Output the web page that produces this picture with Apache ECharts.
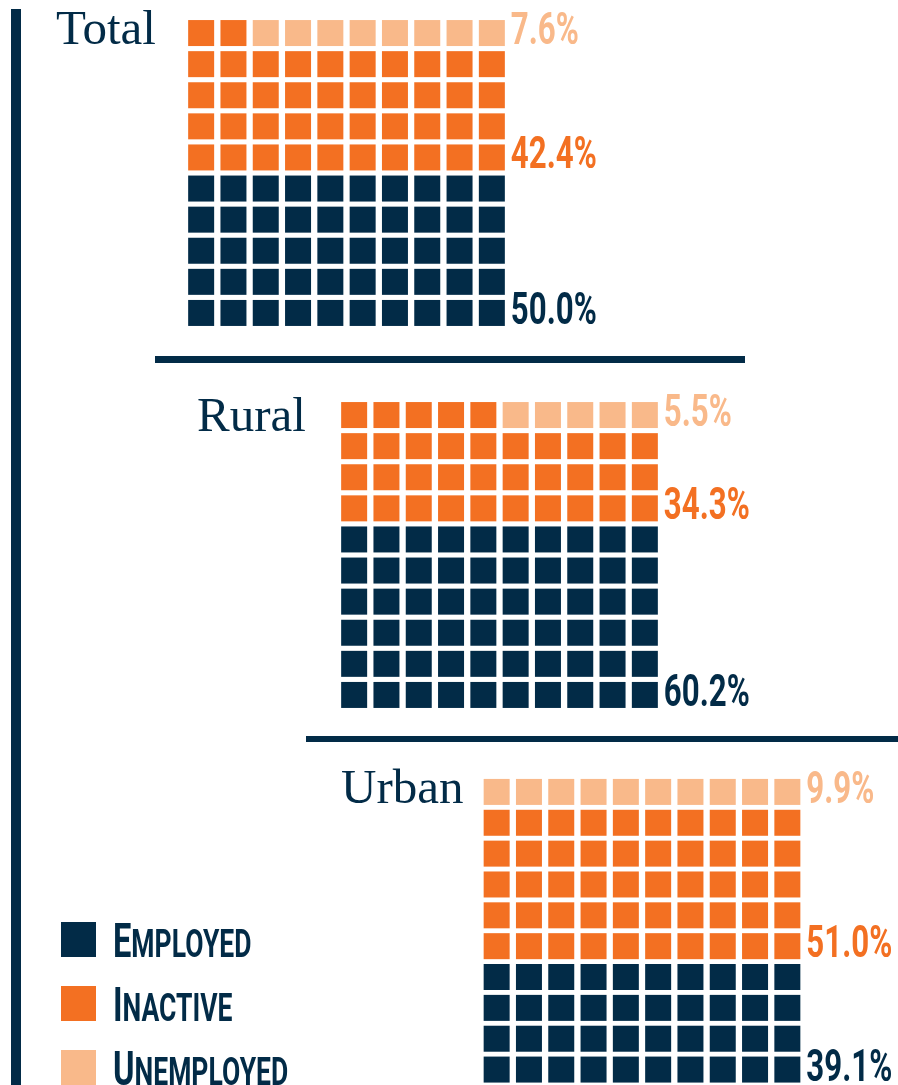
<!DOCTYPE html>
<html>
<head>
<meta charset="utf-8">
<script src="https://cdn.jsdelivr.net/npm/echarts@6/dist/echarts.min.js"></script>
<style>
  html, body { margin: 0; padding: 0; background: #fff; }
  #chart { width: 898px; height: 1085px; }
</style>
</head>
<body>
<div id="chart"></div>
<script>
// values
const regions = ['Total', 'Rural', 'Urban']
const statuses = ['Employed', 'Inactive', 'Unemployed']
const employedShare = [50.0, 60.2, 39.1]
const inactiveShare = [42.4, 34.3, 51.0]
const unemployedShare = [7.6, 5.5, 9.9]
// squares drawn out of 100 in each waffle
const employedCells = [50, 60, 40]
const inactiveCells = [42, 35, 50]
const unemployedCells = [8, 5, 10]

const NAVY = '#022b47'
const ORANGE = '#f37022'
const PEACH = '#f9b98a'
const colors = [NAVY, ORANGE, PEACH]

// no condensed face installed, so squeeze a bold sans horizontally
const NARROW = 'Roboto, "DejaVu Sans", sans-serif'
const SQUEEZE = 0.68
const SQUEEZE_PCT = 0.71
const SERIF = '"Liberation Serif", "DejaVu Serif", serif'

// where each waffle sits on the page
const gridBoxes = [
  { left: 185, top: 17.5 },
  { left: 338, top: 399.5 },
  { left: 480.5, top: 776.5 }
]
const titleBoxes = [
  { left: 56, top: 6.5 },
  { left: 197, top: 393.5 },
  { left: 341, top: 765.5 }
]

const shares = [employedShare, inactiveShare, unemployedShare]
const cells = [employedCells, inactiveCells, unemployedCells]

const chart = echarts.init(document.getElementById('chart'), null, { renderer: 'canvas' })

const grids = []
const xAxes = []
const yAxes = []
const series = []

regions.forEach((region, r) => {
  grids.push({ left: gridBoxes[r].left, top: gridBoxes[r].top, width: 323, height: 311 })
  xAxes.push({ gridIndex: r, type: 'value', min: -0.5, max: 9.5, show: false })
  yAxes.push({ gridIndex: r, type: 'value', min: -0.5, max: 9.5, show: false })

  const labelData = []
  let start = 0
  statuses.forEach((status, s) => {
    const n = cells[s][r]
    const data = []
    // fill from the bottom row up, left to right
    for (let k = start; k < start + n; k++) {
      data.push([k % 10, Math.floor(k / 10)])
    }
    series.push({
      name: status,
      type: 'scatter',
      xAxisIndex: r,
      yAxisIndex: r,
      symbol: 'rect',
      symbolSize: [26, 26],
      itemStyle: { color: colors[s], opacity: 1 },
      emphasis: { disabled: true },
      data: data
    })
    // share sits beside the lowest row of its status
    labelData.push([9, Math.floor(start / 10), shares[s][r], s])
    start += n
  })

  series.push({
    type: 'custom',
    xAxisIndex: r,
    yAxisIndex: r,
    silent: true,
    data: labelData,
    renderItem: (params, api) => {
      const p = api.coord([api.value(0), api.value(1)])
      return {
        type: 'text',
        x: p[0] + 13 + 6,
        y: p[1] + 13 + 9,
        scaleX: SQUEEZE_PCT,
        style: {
          text: api.value(2).toFixed(1) + '%',
          fill: colors[api.value(3)],
          fontFamily: NARROW,
          fontWeight: 'bold',
          fontSize: 44,
          align: 'left',
          verticalAlign: 'bottom'
        }
      }
    }
  })
})

// legend: swatch plus small-caps name
const legendGraphics = []
statuses.forEach((status, s) => {
  const y = 922 + s * 64
  legendGraphics.push({
    type: 'rect',
    shape: { x: 61, y: y, width: 35, height: 35 },
    style: { fill: colors[s] },
    silent: true
  })
  legendGraphics.push({
    type: 'text',
    x: 113,
    y: y + 35 + 12,
    scaleX: SQUEEZE,
    silent: true,
    style: {
      text: `{a|${status[0]}}{b|${status.slice(1).toUpperCase()}}`,
      verticalAlign: 'bottom',
      rich: {
        a: { fontFamily: NARROW, fontWeight: 'bold', fontSize: 48, fill: NAVY, verticalAlign: 'bottom' },
        b: { fontFamily: NARROW, fontWeight: 'bold', fontSize: 39, fill: NAVY, verticalAlign: 'bottom', padding: [0, 0, 2, 0] }
      }
    }
  })
})

chart.setOption({
  animation: false,
  backgroundColor: '#fff',
  title: regions.map((region, r) => ({
    text: region,
    left: titleBoxes[r].left,
    top: titleBoxes[r].top,
    padding: 0,
    textStyle: {
      fontFamily: SERIF,
      fontWeight: 'normal',
      fontSize: 49,
      color: NAVY
    }
  })),
  grid: grids,
  xAxis: xAxes,
  yAxis: yAxes,
  series: series,
  graphic: [
    { type: 'rect', shape: { x: 11, y: 9, width: 10, height: 1076 }, style: { fill: NAVY }, silent: true },
    { type: 'rect', shape: { x: 155, y: 356, width: 590, height: 7 }, style: { fill: NAVY }, silent: true },
    { type: 'rect', shape: { x: 306, y: 736, width: 592, height: 6 }, style: { fill: NAVY }, silent: true }
  ].concat(legendGraphics)
})

window.addEventListener('resize', () => chart.resize())
</script>
</body>
</html>
